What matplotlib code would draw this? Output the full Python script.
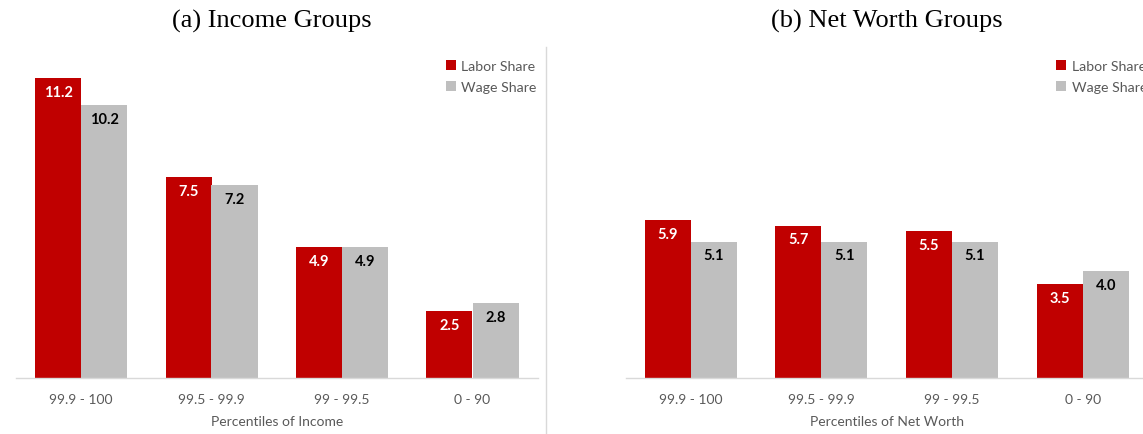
import matplotlib
matplotlib.use("Agg")
import matplotlib.pyplot as plt
from matplotlib.lines import Line2D
from matplotlib.patches import Patch
import numpy as np

income_groups = ["99.9 - 100", "99.5 - 99.9", "99 - 99.5", "0 - 90"]
income_labor = [11.2, 7.5, 4.9, 2.5]
income_wage = [10.2, 7.2, 4.9, 2.8]

networth_groups = ["99.9 - 100", "99.5 - 99.9", "99 - 99.5", "0 - 90"]
networth_labor = [5.9, 5.7, 5.5, 3.5]
networth_wage = [5.1, 5.1, 5.1, 4.0]

RED = "#C00000"
GRAY = "#BFBFBF"
TXT = "#595959"
SANS = "Lato"

W, H = 1143, 435
fig = plt.figure(figsize=(W / 100, H / 100), dpi=100)

bottom = (H - 379) / H
height = 337.5 / H
ax1 = fig.add_axes([15.75 / W, bottom, 522 / W, height])
ax2 = fig.add_axes([625.5 / W, bottom, 522.5 / W, height])

bw = 46 / 130.5


def draw(ax, groups, labor, wage, xlabel):
    x = np.arange(len(groups))
    b1 = ax.bar(x - bw / 2, labor, bw, color=RED, label="Labor Share")
    b2 = ax.bar(x + bw / 2, wage, bw, color=GRAY, label="Wage Share")
    for rect, v in zip(b1, labor):
        ax.annotate(f"{v:.1f}", (rect.get_x() + rect.get_width() / 2, v),
                    xytext=(0, -10), textcoords="offset points",
                    ha="center", va="center", color="white",
                    fontweight="bold", fontsize=10.5, family=SANS)
    for rect, v in zip(b2, wage):
        ax.annotate(f"{v:.1f}", (rect.get_x() + rect.get_width() / 2, v),
                    xytext=(0, -10), textcoords="offset points",
                    ha="center", va="center", color="black",
                    fontweight="bold", fontsize=10.5, family=SANS)
    ax.set_xlim(-0.5, len(groups) - 0.5)
    ax.set_ylim(0, 12.62)
    ax.set_yticks([])
    ax.set_xticks(x)
    ax.set_xticklabels(groups, fontsize=10, color=TXT, family=SANS)
    ax.tick_params(axis="x", length=0, pad=11)
    for s in ["top", "right", "left"]:
        ax.spines[s].set_visible(False)
    ax.spines["bottom"].set_color("#D9D9D9")
    ax.spines["bottom"].set_linewidth(1)
    ax.set_xlabel(xlabel, fontsize=10, color=TXT, family=SANS, labelpad=7)
    handles = [Patch(facecolor=RED, edgecolor="none"), Patch(facecolor=GRAY, edgecolor="none")]
    leg = ax.legend(handles, ["Labor Share", "Wage Share"], loc="upper left",
                    bbox_to_anchor=(0.813, 0.96), frameon=False,
                    handlelength=0.7, handleheight=0.7, handletextpad=0.4,
                    labelspacing=0.68, borderaxespad=0,
                    prop={"family": SANS, "size": 10.2})
    for t in leg.get_texts():
        t.set_color(TXT)


draw(ax1, income_groups, income_labor, income_wage, "Percentiles of Income")
draw(ax2, networth_groups, networth_labor, networth_wage, "Percentiles of Net Worth")

fig.text(272 / W, 1 - 21 / H, "(a) Income Groups", ha="center", va="center",
         family="Liberation Serif", fontsize=19)
fig.text(887 / W, 1 - 21 / H, "(b) Net Worth Groups", ha="center", va="center",
         family="Liberation Serif", fontsize=19)

fig.add_artist(Line2D([546 / W, 546 / W], [0, 1 - 48 / H], color="#D9D9D9", lw=1,
                      transform=fig.transFigure))

fig.savefig("out.png", dpi=100)
